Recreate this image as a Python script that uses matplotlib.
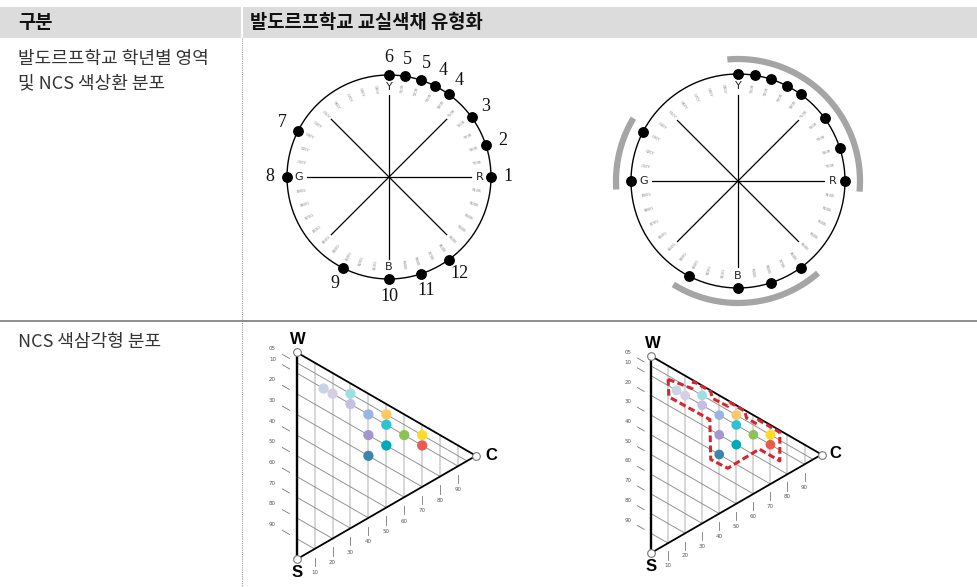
import numpy as np
import matplotlib
matplotlib.use("Agg")
import matplotlib.pyplot as plt
from matplotlib.patches import Rectangle

plt.rcParams['font.family'] = ['Noto Sans CJK KR', 'DejaVu Sans']

# --- data -------------------------------------------------------------
header = ['구분', '발도르프학교 교실색채 유형화']
row_titles = [['발도르프학교 학년별 영역', '및 NCS 색상환 분포'], ['NCS 색삼각형 분포']]

# NCS hue circle, clockwise from Y (top)
hue_names = ['Y', 'Y10R', 'Y20R', 'Y30R', 'Y40R', 'Y50R', 'Y60R', 'Y70R', 'Y80R', 'Y90R',
             'R', 'R10B', 'R20B', 'R30B', 'R40B', 'R50B', 'R60B', 'R70B', 'R80B', 'R90B',
             'B', 'B10G', 'B20G', 'B30G', 'B40G', 'B50G', 'B60G', 'B70G', 'B80G', 'B90G',
             'G', 'G10Y', 'G20Y', 'G30Y', 'G40Y', 'G50Y', 'G60Y', 'G70Y', 'G80Y', 'G90Y']
primaries = ['Y', 'R', 'B', 'G']

# hues used by the school (dots on the circle) and grade numbers next to them
school_hues = ['R', 'Y80R', 'Y60R', 'Y40R', 'Y30R', 'Y20R', 'Y10R', 'Y',
               'G30Y', 'G', 'B30G', 'B', 'R80B', 'R60B']
grade_labels = ['1', '2', '3', '4', '4', '5', '5', '6', '7', '8', '9', '10', '11', '12']

# hue ranges (degrees clockwise from Y) grouped in the typology
hue_ranges = [(-5, 95), (139, 212), (266, 301)]

# NCS triangle nuances: blackness s, chromaticness c
blackness = [10, 10, 5, 10, 10, 5, 10, 20, 10, 5, 10, 20, 30]
chroma = [15, 20, 30, 30, 40, 50, 50, 40, 60, 70, 70, 50, 40]
dot_colors = ['#c6d5e6', '#d4cfe6', '#9fdfe3', '#c5bfe3', '#9bb5e3', '#fec868', '#2cc4d0',
              '#a497cf', '#8dc255', '#fedb2a', '#e85b50', '#00a9b6', '#3c86aa']

black_ticks = [5, 10, 20, 30, 40, 50, 60, 70, 80, 90]
black_tick_labels = ['05', '10', '20', '30', '40', '50', '60', '70', '80', '90']
chroma_ticks = [10, 20, 30, 40, 50, 60, 70, 80, 90]

# dashed zone outline in (s, c)
zone_s = [6.8, 4.5, 0.5, 0.5, 3.5, 3, 0.5, 0.5, 3.5, 3.5, 1, 1, 15.5, 15.5, 34.5, 35, 15, 15.5]
zone_c = [10, 24, 25, 35, 36, 45, 46, 55, 56, 62, 63, 75.5, 75.5, 63.5, 45, 35, 34.5, 10.5]

# --- figure -----------------------------------------------------------
FW, FH = 978, 587
fig = plt.figure(figsize=(FW / 100, FH / 100), dpi=100)

bg = fig.add_axes([0, 0, 1, 1])
bg.set_xlim(0, FW)
bg.set_ylim(FH, 0)
bg.axis('off')
bg.add_patch(Rectangle((0, 7), FW, 31, color='#dcdcdc', lw=0))
bg.plot([242, 242], [7, 38], color='white', lw=1.5)
bg.plot([242, 242], [38, FH], color='#9a9a9a', lw=0.8, ls=(0, (1, 1)))
bg.plot([0, FW], [320.5, 320.5], color='#7a7a7a', lw=1.2)
bg.text(18, 23, header[0], fontsize=13.5, weight='bold', va='center', color='#111')
bg.text(250, 23, header[1], fontsize=13.5, weight='bold', va='center', color='#111')
bg.text(18, 59, row_titles[0][0], fontsize=13, va='center', color='#333')
bg.text(18, 83, row_titles[0][1], fontsize=13, va='center', color='#333')
bg.text(18, 342, row_titles[1][0], fontsize=13, va='center', color='#333')

RMAX = 1.4


def draw_wheel(cx, cy, r, numbers=None, arcs=None):
    R = r * RMAX
    ax = fig.add_axes([(cx - R) / FW, 1 - (cy + R) / FH, 2 * R / FW, 2 * R / FH],
                      projection='polar')
    ax.set_theta_zero_location('N')
    ax.set_theta_direction(-1)
    ax.set_ylim(0, RMAX)
    ax.axis('off')
    th = np.linspace(0, 2 * np.pi, 361)
    ax.plot(th, np.ones_like(th), color='k', lw=1.0)
    for a in range(0, 360, 45):
        ax.plot([np.radians(a)] * 2, [0, 0.8], color='k', lw=0.9)
    step = 360 / len(hue_names)
    for i, name in enumerate(hue_names):
        a = i * step
        if name in primaries:
            ax.text(np.radians(a), 0.885, name, fontsize=8, ha='center', va='center',
                    family='DejaVu Sans', color='#222')
        else:
            rot = 90 - a
            while rot < -90:
                rot += 180
            while rot > 90:
                rot -= 180
            ax.text(np.radians(a), 0.87, name, fontsize=2.6, ha='center', va='center',
                    rotation=rot, rotation_mode='anchor', color='#888', family='DejaVu Sans')
    ang = np.radians([hue_names.index(h) * step for h in school_hues])
    ax.plot(ang, np.ones_like(ang), 'o', color='k', ms=6.8, zorder=5, clip_on=False)
    if numbers:
        for a, lab in zip(ang, numbers):
            ax.text(a, 1.17, lab, family='Liberation Serif', fontsize=13,
                    ha='center', va='center', color='#111')
    if arcs:
        for a0, a1 in arcs:
            t = np.radians(np.linspace(a0, a1, 100))
            ax.plot(t, np.full_like(t, 1.14), color='#a5a5a5', lw=4.5,
                    solid_capstyle='butt', clip_on=False)


def nc(s, c):
    s = np.asarray(s, float)
    c = np.asarray(c, float)
    return 0.866 * c, 100 - s - c / 2


def draw_triangle(wx, wy, scale, ms, zone=False):
    xmin, xmax, ymin, ymax = -16, 100, -12, 112
    left = wx + xmin * scale
    top = wy - (ymax - 100) * scale
    w = (xmax - xmin) * scale
    h = (ymax - ymin) * scale
    ax = fig.add_axes([left / FW, 1 - (top + h) / FH, w / FW, h / FH])
    ax.set_xlim(xmin, xmax)
    ax.set_ylim(ymin, ymax)
    ax.axis('off')
    for c in chroma_ticks:
        x, _ = nc(0, c)
        ax.plot([x, x], [c / 2, 100 - c / 2], color='#cdcdcd', lw=1.1)
        ax.plot([x, x], [c / 2 - 4.2, c / 2 - 8.3], color='#777', lw=0.6)
        ax.text(x, c / 2 - 11.5, str(c), fontsize=4, ha='center', va='center', color='#555',
                family='DejaVu Sans')
    for s, lab in zip(black_ticks, black_tick_labels):
        x0, y0 = nc(s, 0)
        x1, y1 = nc(s, 100 - s)
        ax.plot([x0, x1], [y0, y1], color='#8c8c8c', lw=0.65)
        xa, ya = nc([s, s], [-8, -4])
        ax.plot(xa, ya, color='#777', lw=0.6)
        xl, yl = nc(s, -13.5)
        ax.text(xl, yl, lab, fontsize=4, ha='center', va='center', color='#555',
                family='DejaVu Sans')
    vx, vy = nc([0, 100, 0], [0, 0, 100])
    ax.plot([vx[0], vx[1]], [vy[0], vy[1]], color='k', lw=1.7)
    ax.plot([vx[1], vx[2], vx[0]], [vy[1], vy[2], vy[0]], color='k', lw=1.3)
    ax.plot(vx, vy, 'o', mfc='white', mec='#777', mew=0.8, ms=5.5, zorder=6, clip_on=False)
    ax.text(0.7, 106.3, 'W', fontsize=12, weight='bold', ha='center', va='center',
            family='Liberation Sans')
    ax.text(0, -6.6, 'S', fontsize=12, weight='bold', ha='center', va='center',
            family='Liberation Sans')
    ax.text(93.8, 50.3, 'C', fontsize=12, weight='bold', ha='center', va='center',
            family='Liberation Sans')
    dx, dy = nc(blackness, chroma)
    ax.scatter(dx, dy, s=ms ** 2, c=dot_colors, zorder=5, lw=0)
    if zone:
        zx, zy = nc(zone_s + zone_s[:1], zone_c + zone_c[:1])
        ax.plot(zx, zy, color='#d7262e', lw=2.2, ls=(0, (2.2, 1.1)), zorder=7)


draw_wheel(389, 177, 102, numbers=grade_labels)
draw_wheel(738, 181, 107, arcs=hue_ranges)
draw_triangle(296.7, 352.3, 2.07, 7.4)
draw_triangle(651, 356, 1.97, 7.0, zone=True)

fig.savefig('out.png', dpi=100)
